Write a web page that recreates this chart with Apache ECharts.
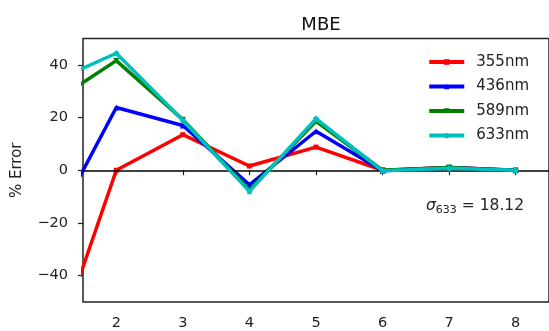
<!DOCTYPE html>
<html>
<head>
<meta charset="utf-8">
<script src="https://cdn.jsdelivr.net/npm/echarts@6/dist/echarts.min.js"></script>
<style>
html, body { margin: 0; padding: 0; background: #fff; }
#container { width: 549px; height: 331px; }
</style>
</head>
<body>
<div id="container"></div>
<script type="text/javascript">
// data (x = 1 points sit outside the view and get clipped)
var xs = [1, 2, 3, 4, 5, 6, 7, 8];
var s355 = [-73.5, 0, 13.5, 1.6, 8.8, 0, 1, 0];
var s436 = [-24, 23.8, 17, -5.5, 14.8, -0.2, 1, 0];
var s589 = [25, 41.6, 19.2, -7.5, 18.6, 0, 1, -0.1];
var s633 = [33, 44.4, 19, -8, 19.6, -0.2, 0.8, 0];
var names = ['355nm', '436nm', '589nm', '633nm'];
var xTicks = [2, 3, 4, 5, 6, 7, 8];
var yTicks = [-40, -20, 0, 20, 40];

function pairs(arr) {
    return xs.map(function (x, i) { return [x, arr[i]]; });
}

var font = 'DejaVu Sans';
var pentagon = 'path://M0,-1L0.951,-0.309L0.588,0.809L-0.588,0.809L-0.951,-0.309Z';

var dom = document.getElementById('container');
var myChart = echarts.init(dom);
var option = {
    animation: false,
    textStyle: { fontFamily: font },
    title: {
        text: 'MBE',
        left: 316, textAlign: 'center', top: 11,
        textStyle: { fontSize: 18, fontWeight: 'normal', color: '#111', fontFamily: font }
    },
    grid: {
        left: 83, right: 0, top: 38.5, bottom: 27.5,
        show: true, borderColor: '#222', borderWidth: 1.5, backgroundColor: 'transparent'
    },
    legend: {
        orient: 'vertical',
        right: 15, top: 49,
        itemWidth: 35, itemHeight: 7, itemGap: 8.5,
        data: names,
        lineStyle: { width: 4 },
        textStyle: { fontSize: 15, lineHeight: 16, color: '#222', fontFamily: font, padding: [0, 0, 0, 7] }
    },
    xAxis: {
        type: 'value', min: 1.5, max: 8.5,
        axisLine: { show: false },
        splitLine: { show: false },
        axisTick: { show: true, length: 5, lineStyle: { color: '#222', width: 1.2 }, customValues: xTicks },
        axisLabel: { fontSize: 14.5, color: '#222', margin: 14, customValues: xTicks }
    },
    yAxis: {
        type: 'value', min: -50, max: 50,
        name: '% Error', nameLocation: 'middle', nameGap: 58,
        nameTextStyle: { fontSize: 15, color: '#222', fontFamily: font },
        axisLine: { show: false },
        splitLine: { show: false },
        axisTick: { show: true, length: 5, lineStyle: { color: '#222', width: 1.2 }, customValues: yTicks },
        axisLabel: {
            fontSize: 14.5, color: '#222', margin: 15, customValues: yTicks,
            formatter: function (v) { return String(v).replace('-', '\u2212'); }
        }
    },
    series: [
        {
            name: names[0], type: 'line', data: pairs(s355),
            symbol: 'rect', symbolSize: 5,
            lineStyle: { width: 3.5, color: '#ff0000' }, itemStyle: { color: '#ff0000' },
            markLine: {
                silent: true, symbol: 'none', label: { show: false },
                lineStyle: { color: '#000', width: 1.5, type: 'solid' },
                data: [{ yAxis: 0 }]
            },
            z: 2
        },
        {
            name: names[1], type: 'line', data: pairs(s436),
            symbol: 'triangle', symbolSize: 6,
            lineStyle: { width: 3.5, color: '#0000ff' }, itemStyle: { color: '#0000ff' }, z: 3
        },
        {
            name: names[2], type: 'line', data: pairs(s589),
            symbol: 'triangle', symbolRotate: 180, symbolSize: 6,
            lineStyle: { width: 3.5, color: '#008000' }, itemStyle: { color: '#008000' }, z: 4
        },
        {
            name: names[3], type: 'line', data: pairs(s633),
            symbol: pentagon, symbolSize: 6,
            lineStyle: { width: 3.5, color: '#00bfbf' }, itemStyle: { color: '#00bfbf' }, z: 5
        }
    ],
    graphic: [{
        type: 'text', left: 426, top: 198, z: 10,
        style: {
            text: '{s|\u03c3}{sub|633}{n| = 18.12}',
            rich: {
                s: { fontSize: 15.5, fontStyle: 'italic', fill: '#222', fontFamily: font },
                sub: { fontSize: 11, fill: '#222', fontFamily: font, padding: [8, 0, 0, 0] },
                n: { fontSize: 15.5, fill: '#222', fontFamily: font }
            }
        }
    }]
};
myChart.setOption(option, true);
</script>
</body>
</html>
